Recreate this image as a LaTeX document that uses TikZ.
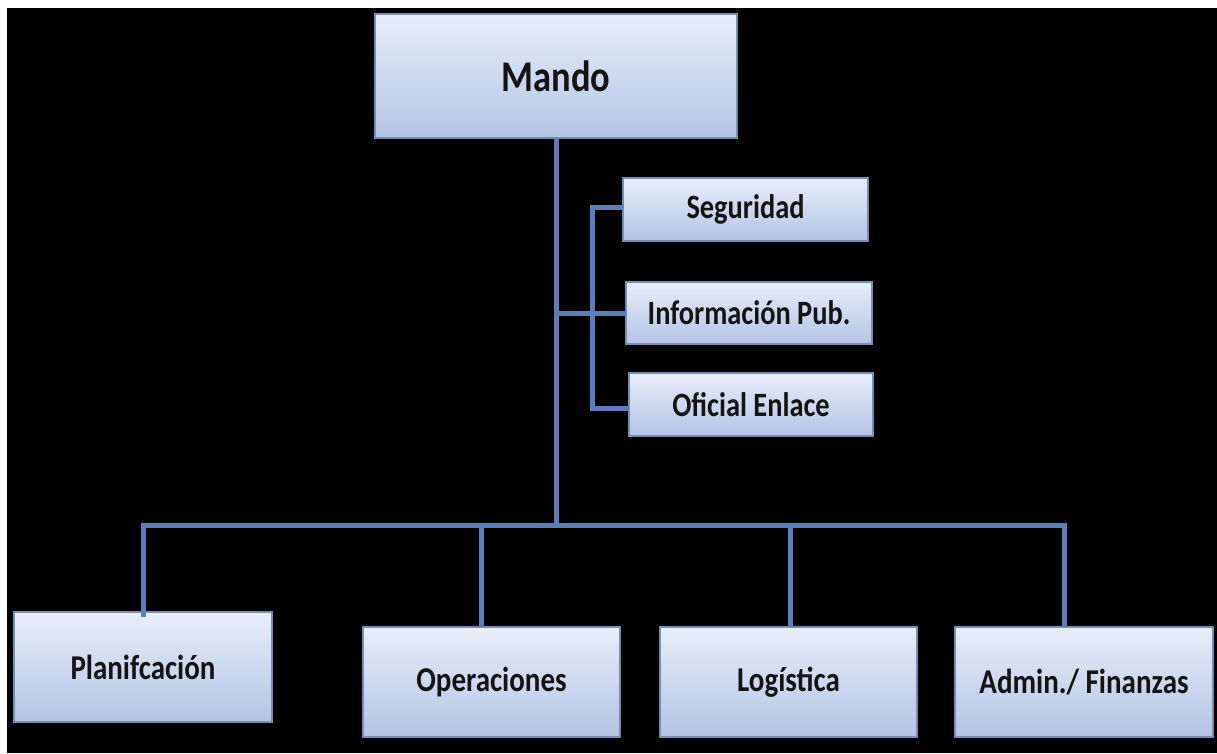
\documentclass[tikz,border=0pt]{standalone}
\usepackage{fontspec}
\setmainfont{Carlito}
\definecolor{boxtop}{RGB}{232,238,250}
\definecolor{boxbot}{RGB}{180,196,228}
\definecolor{boxline}{RGB}{120,140,180}
\definecolor{wire}{RGB}{92,126,192}
\newcommand\tallword[1]{\scalebox{1}[1.2]{#1}}
\tikzset{
  box/.style={draw=boxline, line width=1.2pt, top color=boxtop, bottom color=boxbot,
    anchor=north west, inner sep=0pt, outer sep=0pt, text=black!92,
    font=\fontsize{29pt}{34pt}\selectfont\bfseries},
  conn/.style={draw=wire, line width=5pt},
}
\begin{document}
\begin{tikzpicture}[x=1pt, y=-1pt]
  % page and black backdrop
  \fill[white] (0,0) rectangle (1217,753);
  \useasboundingbox (0,0) rectangle (1217,753);
  \fill[black] (7,8) rectangle (1217,753);

  % top box
  \node[box, minimum width=362pt, minimum height=124pt,
        font=\fontsize{36.5pt}{42pt}\selectfont\bfseries] (mando) at (375,14) {\tallword{Mando}};

  % staff boxes
  \node[box, minimum width=245pt, minimum height=63pt, font=\fontsize{28.4pt}{34pt}\selectfont\bfseries]
        (segu) at (623,178) {\tallword{Seguridad}};
  \node[box, minimum width=246pt, minimum height=62pt, font=\fontsize{28.4pt}{34pt}\selectfont\bfseries]
        (info) at (626,282) {\tallword{Información Pub.}};
  \node[box, minimum width=244pt, minimum height=63pt, font=\fontsize{28.4pt}{34pt}\selectfont\bfseries]
        (ofic) at (629,373) {\tallword{Oficial Enlace}};

  % section boxes
  \node[box, minimum width=258pt, minimum height=110pt] (plan) at (14,612)  {\tallword{Planifcación}};
  \node[box, minimum width=257pt, minimum height=110pt] (oper) at (363,627) {\tallword{Operaciones}};
  \node[box, minimum width=257pt, minimum height=110pt] (logi) at (660,627) {\tallword{Logística}};
  \node[box, minimum width=258pt, minimum height=110pt] (admi) at (955,627) {\tallword{Admin./ Finanzas}};

  % junction of the section bus
  \coordinate (bus) at (556,525);

  % main trunk and section bus
  \draw[conn] (mando.south) -- (bus);
  \draw[conn] ([yshift=-5pt]plan.north) |- (bus) -| ([xshift=-20pt]admi.north);
  \draw[conn] ([xshift=-10.5pt]oper.north) -- ([xshift=-10.5pt]oper.north |- bus);
  \draw[conn] ([xshift=1.5pt]logi.north) -- ([xshift=1.5pt]logi.north |- bus);

  % staff bracket
  \draw[conn] ([yshift=2pt]segu.west) -- ++(-31pt,0) |- ([yshift=-4pt]ofic.west);
  \draw[conn] (info.west) -- (info.west -| mando.south);
\end{tikzpicture}
\end{document}
